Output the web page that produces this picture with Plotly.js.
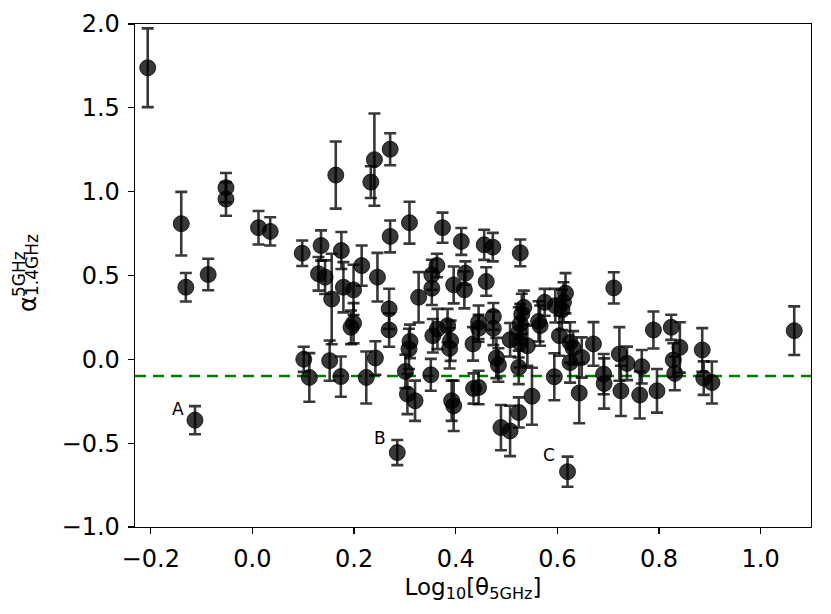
<!DOCTYPE html>
<html>
<head>
<meta charset="utf-8">
<script src="https://cdn.plot.ly/plotly-3.0.1.min.js"></script>
<style>html,body{margin:0;padding:0;background:#fff;}#chart{width:831px;height:614px;}</style>
</head>
<body>
<div id="chart"></div>
<script>
// log10 of angular size at 5 GHz
const logTheta = [-0.206,-0.140,-0.131,-0.113,-0.087,-0.052,-0.052,0.012,0.035,0.098,
  0.101,0.112,0.135,0.130,0.143,0.156,0.152,0.164,0.175,0.174,
  0.179,0.199,0.199,0.194,0.215,0.224,0.233,0.240,0.242,0.246,
  0.271,0.271,0.269,0.269,0.285,0.301,0.305,0.309,0.310,0.308,
  0.320,0.327,0.351,0.353,0.353,0.355,0.363,0.364,0.374,0.384,
  0.390,0.388,0.392,0.396,0.396,0.411,0.419,0.417,0.434,0.435,
  0.445,0.445,0.445,0.456,0.460,0.473,0.474,0.474,0.480,0.484,
  0.489,0.507,0.507,0.524,0.527,0.534,0.530,0.527,0.524,0.526,
  0.541,0.524,0.550,0.563,0.575,0.566,0.596,0.594,0.604,0.609,
  0.612,0.616,0.620,0.625,0.631,0.625,0.643,0.648,0.671,0.691,
  0.692,0.711,0.722,0.725,0.737,0.762,0.766,0.789,0.796,0.824,
  0.828,0.831,0.841,0.885,0.888,0.904,1.066];
// spectral index 1.4-5 GHz
const alpha = [1.739,0.809,0.430,-0.363,0.506,1.024,0.956,0.785,0.763,0.633,
  0.000,-0.108,0.679,0.510,0.490,0.360,-0.008,1.099,0.649,-0.103,
  0.430,0.414,0.215,0.191,0.559,-0.108,1.057,1.191,0.008,0.490,
  1.253,0.733,0.301,0.175,-0.556,-0.072,-0.207,0.815,0.107,0.062,
  -0.247,0.370,-0.092,0.504,0.424,0.141,0.560,0.181,0.785,0.201,
  0.111,0.065,-0.247,-0.277,0.444,0.703,0.514,0.414,0.092,-0.174,
  -0.168,0.221,0.185,0.683,0.464,0.669,0.256,0.185,0.008,-0.034,
  -0.407,0.117,-0.427,-0.317,0.635,0.310,0.271,0.211,0.161,0.101,
  0.081,-0.048,-0.220,0.226,0.340,0.201,0.320,-0.104,0.141,0.295,
  0.340,0.394,-0.670,0.101,0.068,-0.019,-0.201,0.011,0.092,-0.088,
  -0.144,0.426,0.032,-0.188,-0.024,-0.213,-0.044,0.175,-0.188,0.191,
  -0.004,-0.084,0.071,0.056,-0.112,-0.138,0.171];
const alphaErr = [0.235,0.19,0.085,0.084,0.094,0.087,0.10,0.10,0.084,0.076,
  0.075,0.145,0.09,0.10,0.10,0.27,0.12,0.20,0.11,0.12,
  0.15,0.15,0.12,0.10,0.12,0.155,0.095,0.275,0.10,0.145,
  0.095,0.095,0.12,0.10,0.075,0.10,0.12,0.125,0.10,0.12,
  0.12,0.15,0.095,0.09,0.10,0.10,0.07,0.12,0.09,0.10,
  0.12,0.12,0.12,0.15,0.11,0.08,0.07,0.11,0.10,0.09,
  0.10,0.10,0.08,0.09,0.085,0.085,0.08,0.10,0.12,0.10,
  0.135,0.10,0.15,0.09,0.08,0.10,0.12,0.12,0.15,0.15,
  0.12,0.10,0.17,0.12,0.08,0.12,0.10,0.14,0.12,0.12,
  0.12,0.12,0.09,0.12,0.10,0.12,0.18,0.12,0.13,0.12,
  0.15,0.093,0.16,0.15,0.10,0.14,0.10,0.11,0.13,0.075,
  0.10,0.10,0.15,0.13,0.10,0.125,0.145];

const refLevel = -0.1;
const labelText = ['A','B','C'];
const labelX = [-0.147, 0.251, 0.583];
const labelY = [-0.297, -0.467, -0.570];

const xTicks = [-0.2, 0.0, 0.2, 0.4, 0.6, 0.8, 1.0];
const yTicks = [-1.0, -0.5, 0.0, 0.5, 1.0, 1.5, 2.0];

const trace = {
  type: 'scatter', mode: 'markers',
  x: logTheta, y: alpha,
  error_y: {type: 'data', array: alphaErr, visible: true,
            color: 'rgba(0,0,0,0.78)', thickness: 2.6, width: 6},
  marker: {size: 16, color: 'rgba(0,0,0,0.78)',
           line: {width: 1, color: 'rgba(0,0,0,0.75)'}},
  hoverinfo: 'x+y'
};

const annotations = labelText.map((t, i) => ({
  x: labelX[i], y: labelY[i], xref: 'x', yref: 'y', text: t, showarrow: false,
  xanchor: 'center', yanchor: 'middle', font: {size: 17, color: '#000'}
}));
// y-axis title: alpha with stacked super/subscript
annotations.push({xref: 'paper', yref: 'paper', x: (28-135)/675.7, y: (527-304)/503,
  text: 'α', showarrow: false, textangle: -90, xanchor: 'center', yanchor: 'middle',
  font: {size: 24, color: '#000'}});
annotations.push({xref: 'paper', yref: 'paper', x: (19-135)/675.7, y: (527-274)/503,
  text: '5GHz', showarrow: false, textangle: -90, xanchor: 'center', yanchor: 'middle',
  font: {size: 17, color: '#000'}});
annotations.push({xref: 'paper', yref: 'paper', x: (32-135)/675.7, y: (527-265)/503,
  text: '1.4GHz', showarrow: false, textangle: -90, xanchor: 'center', yanchor: 'middle',
  font: {size: 17, color: '#000'}});

const layout = {
  width: 831, height: 614,
  margin: {l: 135, r: 20, t: 24, b: 87, pad: 0},
  paper_bgcolor: '#fff', plot_bgcolor: '#fff',
  font: {family: 'DejaVu Sans', size: 24, color: '#000'},
  showlegend: false,
  xaxis: {
    range: [-0.231, 1.099], tickvals: xTicks, tickformat: '.1f',
    ticks: 'outside', ticklen: 6, tickwidth: 1.3, tickcolor: '#000',
    ticklabelstandoff: 4,
    showline: true, mirror: true, linecolor: '#000', linewidth: 1.3,
    showgrid: false, zeroline: false,
    title: {text: 'Log<sub>10</sub>[θ<sub>5GHz</sub>]', font: {size: 23}, standoff: 6}
  },
  yaxis: {
    range: [-1.0, 2.0], tickvals: yTicks, tickformat: '.1f',
    ticks: 'outside', ticklen: 6, tickwidth: 1.3, tickcolor: '#000',
    ticklabelstandoff: 3,
    showline: true, mirror: true, linecolor: '#000', linewidth: 1.3,
    showgrid: false, zeroline: false
  },
  shapes: [{type: 'line', xref: 'paper', x0: 0, x1: 1, yref: 'y', y0: refLevel, y1: refLevel,
            line: {color: 'green', width: 2.5, dash: '11px,7px'}, layer: 'below'}],
  annotations: annotations
};

Plotly.newPlot('chart', [trace], layout, {displayModeBar: false, staticPlot: true});
</script>
</body>
</html>
